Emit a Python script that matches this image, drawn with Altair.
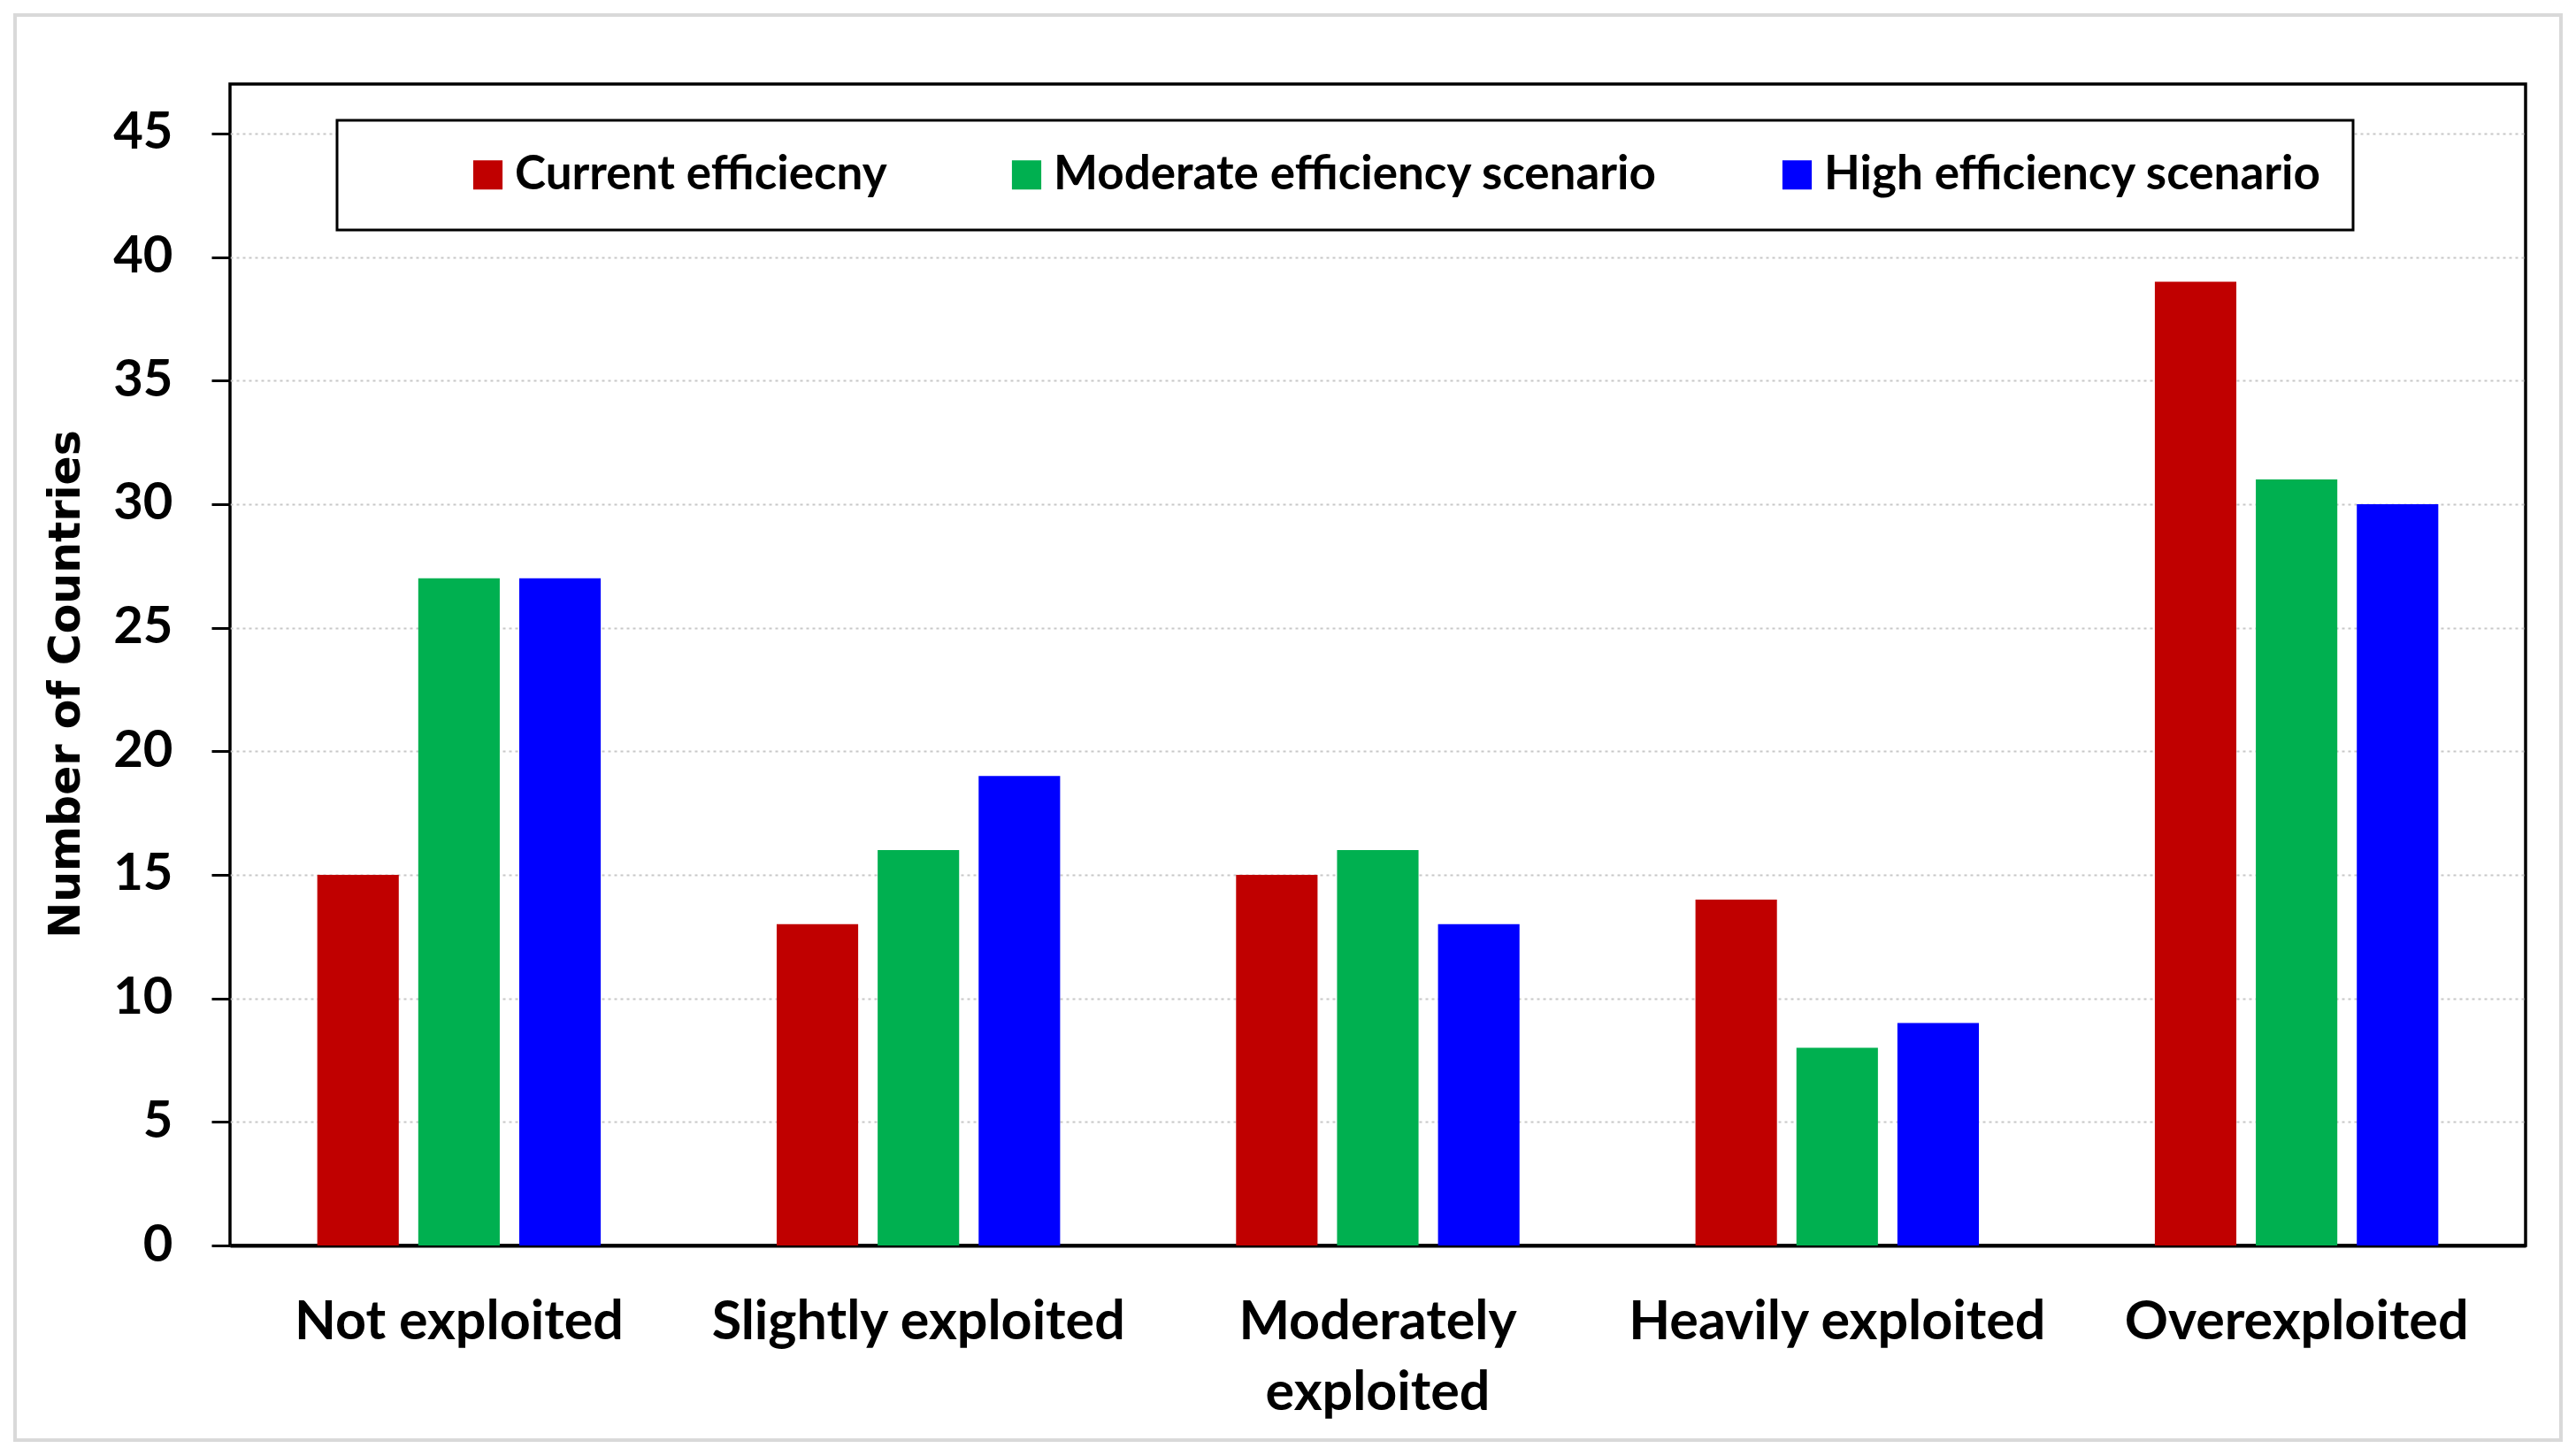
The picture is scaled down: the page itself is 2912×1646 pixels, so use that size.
import altair as alt
import pandas as pd

categories = ["Not exploited", "Slightly exploited", "Moderately exploited", "Heavily exploited", "Overexploited"]
series = ["Current efficiecny", "Moderate efficiency scenario", "High efficiency scenario"]
current = [15, 13, 15, 14, 39]
moderate = [27, 16, 16, 8, 31]
high = [27, 19, 13, 9, 30]
colors = ["#C00000", "#00B050", "#0000FF"]
y_ticks = [0, 5, 10, 15, 20, 25, 30, 35, 40, 45]

rows = []
for s, vals in zip(series, [current, moderate, high]):
    for c, v in zip(categories, vals):
        rows.append({"category": c, "series": s, "value": v})
df = pd.DataFrame(rows)

LABEL_FONT = "Lato"

bars = alt.Chart(df).mark_bar().encode(
    x=alt.X("category:N", sort=categories,
            scale=alt.Scale(paddingInner=0.383, paddingOuter=0.19),
            axis=alt.Axis(title=None, labelAngle=0, ticks=False,
                          domain=True, domainColor="black", domainWidth=4,
                          labelFont=LABEL_FONT, labelFontSize=61, labelFontWeight="bold",
                          labelColor="black", labelPadding=57, labelLineHeight=80, labelLimit=0,
                          labelExpr="datum.label == 'Moderately exploited' ? ['Moderately', 'exploited'] : datum.label")),
    xOffset=alt.XOffset("series:N", sort=series, scale=alt.Scale(paddingInner=0.193, paddingOuter=0)),
    y=alt.Y("value:Q", scale=alt.Scale(domain=[0, 47], nice=False),
            axis=alt.Axis(title="Number of Countries", values=y_ticks,
                          titleFont="DejaVu Sans", titleFontSize=49, titleFontWeight="bold",
                          titleColor="black", titleX=-186, titleY=678, titleAngle=270,
                          titleAlign="center", titleBaseline="middle",
                          labelFont=LABEL_FONT, labelFontSize=58, labelFontWeight="bold",
                          labelColor="black", labelPadding=44, labelLimit=0,
                          tickSize=21, tickWidth=3, tickColor="black",
                          domain=False,
                          grid=True, gridColor="#C8C8C8", gridDash=[3, 4], gridWidth=2)),
    color=alt.Color("series:N", sort=series,
                    scale=alt.Scale(domain=series, range=colors),
                    legend=alt.Legend(title=None, orient="none", direction="horizontal",
                                      legendX=121, legendY=41,
                                      labelFont=LABEL_FONT, labelFontSize=53, labelFontWeight="bold",
                                      labelColor="black", labelOffset=4, labelLimit=0,
                                      symbolType="square", symbolSize=1100, symbolStrokeWidth=0,
                                      symbolOffset=109,
                                      columnPadding=22, padding=35,
                                      strokeColor="black", fillColor="white")),
)

frame = alt.Chart(pd.DataFrame({"f": [0]})).mark_rect(
    fill=None, stroke="#D9D9D9", strokeWidth=4, clip=False
).encode(
    x=alt.value(-243), x2=alt.value(2635), y=alt.value(-78), y2=alt.value(1533)
)

chart = alt.layer(frame, bars).properties(
    width=2595, height=1313,
    background="white",
    autosize=alt.AutoSizeParams(type="none"),
    padding={"left": 252, "top": 87, "right": 49, "bottom": 230},
).configure_view(
    stroke="black", strokeWidth=3.5
).configure_legend(
    strokeWidth=3
)

chart.save("out.html", embed_options={"renderer": "svg", "actions": False})
